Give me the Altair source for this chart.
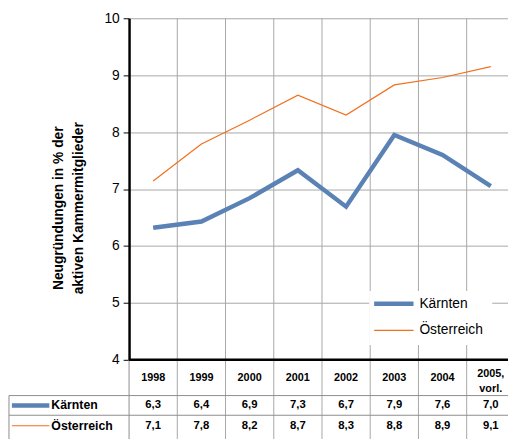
import altair as alt
import pandas as pd

# ---- data ----
years = ["1998", "1999", "2000", "2001", "2002", "2003", "2004", "2005,\nvorl."]
kaernten = [6.32, 6.43, 6.84, 7.33, 6.69, 7.95, 7.60, 7.05]
oesterreich = [7.14, 7.79, 8.21, 8.65, 8.30, 8.83, 8.96, 9.15]
kaernten_lbl = ["6,3", "6,4", "6,9", "7,3", "6,7", "7,9", "7,6", "7,0"]
oesterreich_lbl = ["7,1", "7,8", "8,2", "8,7", "8,3", "8,8", "8,9", "9,1"]
series = ["Kärnten", "Österreich"]
colors = ["#5A82B5", "#F0701E"]
widths = [4.5, 1.2]
y_ticks = [4, 5, 6, 7, 8, 9, 10]
title_lines = ["Neugründungen in % der", "aktiven Kammermitglieder"]

FONT = "Liberation Sans"
GRID = "#A6A6A6"
BORDER = "#8C8C8C"

# layout (data-space) constants for the table below the plot
row_edges = [4.0, 3.372, 3.026, 2.60]
table_left = -2.99
x_dom = [-0.5, 7.357]
y_dom = [4, 10]

xs = alt.Scale(domain=x_dom, nice=False, zero=False)
ys = alt.Scale(domain=y_dom, nice=False, zero=False)

rows = []
for i, y in enumerate(years):
    rows.append({"i": i, "s": series[0], "v": kaernten[i]})
    rows.append({"i": i, "s": series[1], "v": oesterreich[i]})
df = pd.DataFrame(rows)

vgrid = pd.DataFrame({"x": [i + 0.5 for i in range(len(years) - 1)], "y": 10, "y2": row_edges[-1]})
vborder = pd.DataFrame({"x": [-0.5, table_left], "y": [row_edges[0], row_edges[1]], "y2": row_edges[-1]})
hborder = pd.DataFrame({"y": row_edges[1:3], "x": table_left, "x2": 7.6})

base_axis = alt.Axis(values=y_ticks, format="d", labelFontSize=14, labelFont=FONT, labelColor="black",
                     tickColor="black", tickSize=6, tickWidth=1, domainColor="black", domainWidth=2.5,
                     gridColor=GRID, gridWidth=1, labelPadding=4, title=None)

grid_layer = alt.Chart(vgrid).mark_rule(color=GRID, strokeWidth=1).encode(
    x=alt.X("x:Q", scale=xs, axis=None),
    y=alt.Y("y:Q", scale=ys, axis=base_axis),
    y2="y2:Q",
)
vb_layer = alt.Chart(vborder).mark_rule(color=BORDER, strokeWidth=1).encode(
    x=alt.X("x:Q"), y=alt.Y("y:Q"), y2="y2:Q")
hb_layer = alt.Chart(hborder).mark_rule(color=BORDER, strokeWidth=1).encode(
    x=alt.X("x:Q"), x2="x2:Q", y=alt.Y("y:Q"))

legbox = alt.Chart(pd.DataFrame({"x": [4.48], "x2": [7.03], "y": [5.21], "y2": [4.259]})).mark_rect(
    color="white").encode(x="x:Q", x2="x2:Q", y="y:Q", y2="y2:Q")

line_layers = []
for s, c, w in zip(series, colors, widths):
    line_layers.append(
        alt.Chart(df[df.s == s]).mark_line(color=c, strokeWidth=w, strokeJoin="miter").encode(
            x=alt.X("i:Q"), y=alt.Y("v:Q"))
    )

leg = pd.DataFrame({"s": series, "y": [4.985, 4.518], "x": 4.582, "x2": 5.398, "tx": 5.52})
leg_lines = []
for k in range(2):
    leg_lines.append(alt.Chart(leg.iloc[[k]]).mark_rule(color=colors[k], strokeWidth=widths[k]).encode(
        x="x:Q", x2="x2:Q", y="y:Q"))
leg_text = alt.Chart(leg).mark_text(align="left", baseline="middle", fontSize=14, font=FONT,
                                    color="black").encode(x="tx:Q", y="y:Q", text="s:N")

xline = alt.Chart(pd.DataFrame({"y": [4], "x": [-0.5], "x2": [7.6]})).mark_rule(
    color="black", strokeWidth=2.5).encode(x="x:Q", x2="x2:Q", y="y:Q")

# table
hc = (row_edges[0] + row_edges[1]) / 2
r1 = (row_edges[1] + row_edges[2]) / 2
r2 = (row_edges[2] + 2.658) / 2
single = [(i, t) for i, t in enumerate(years) if "\n" not in t]
multi = [(i, t) for i, t in enumerate(years) if "\n" in t]
head1 = pd.DataFrame({"i": [a for a, _ in single], "t": [b for _, b in single], "y": hc})
head2 = pd.DataFrame({"i": [a for a, _ in multi], "t": [b for _, b in multi], "y": 3.758})
head_text1 = alt.Chart(head1).mark_text(fontSize=11, fontWeight="bold", font=FONT,
                                        baseline="middle", color="black").encode(
    x="i:Q", y="y:Q", text="t:N")
head_text2 = alt.Chart(head2).mark_text(fontSize=11, fontWeight="bold", font=FONT, lineBreak="\n",
                                        lineHeight=16, baseline="middle", color="black").encode(
    x="i:Q", y="y:Q", text="t:N")
vals = pd.DataFrame({"i": list(range(len(years))) * 2,
                     "t": kaernten_lbl + oesterreich_lbl,
                     "y": [r1] * len(years) + [r2] * len(years)})
val_text = alt.Chart(vals).mark_text(fontSize=11.5, fontWeight="bold", font=FONT, baseline="middle",
                                     color="black").encode(x="i:Q", y="y:Q", text="t:N")
rh = pd.DataFrame({"s": series, "y": [r1, r2], "x": -2.929, "x2": -2.153, "tx": -2.112})
rh_lines = []
for k in range(2):
    rh_lines.append(alt.Chart(rh.iloc[[k]]).mark_rule(color=colors[k], strokeWidth=widths[k]).encode(
        x="x:Q", x2="x2:Q", y="y:Q"))
rh_text = alt.Chart(rh).mark_text(align="left", baseline="middle", fontSize=12.5, fontWeight="bold",
                                  font=FONT, color="black").encode(x="tx:Q", y="y:Q", text="s:N")

yt = pd.DataFrame({"t": ["\n".join(title_lines)], "x": [-1.95], "y": [6.663]})
ytitle = alt.Chart(yt).mark_text(angle=270, align="center", baseline="middle", fontSize=14,
                                 fontWeight="bold", font=FONT, lineBreak="\n", lineHeight=20,
                                 color="black").encode(x="x:Q", y="y:Q", text="t:N")

chart = alt.layer(
    grid_layer, vb_layer, hb_layer, legbox, *line_layers, *leg_lines, leg_text, xline,
    head_text1, head_text2, val_text, *rh_lines, rh_text, ytitle
).properties(
    width=385, height=347,
    padding={"left": 123, "top": 7, "right": 0, "bottom": 77},
    autosize=alt.AutoSizeParams(type="none"),
).configure_view(stroke=None).configure_axis(grid=True)

chart.save("out.html", embed_options={"renderer": "svg", "actions": False})
